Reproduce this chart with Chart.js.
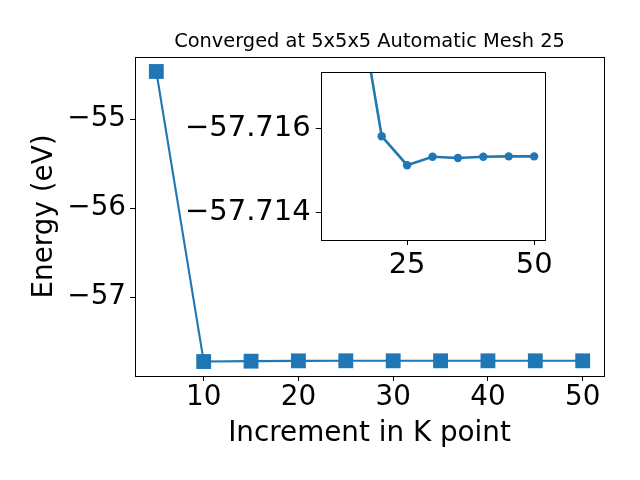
<!DOCTYPE html>
<html>
<head>
<meta charset="utf-8">
<script src="https://cdn.jsdelivr.net/npm/chart.js@4"></script>
<style>
  html, body { margin: 0; padding: 0; background: #ffffff; }
  #wrap { position: relative; width: 640px; height: 480px; }
  #main { position: absolute; left: 0; top: 0; }
  #inset { position: absolute; left: 170px; top: 60px; }
</style>
</head>
<body>
<div id="wrap">
  <canvas id="main" width="640" height="480"></canvas>
  <canvas id="inset" width="390" height="230"></canvas>
</div>
<script>
// ---- data ----
const kPoints = [5, 10, 15, 20, 25, 30, 35, 40, 45, 50];
const energies = [-54.465, -57.7235, -57.7194, -57.71581, -57.71512, -57.71532, -57.71529, -57.71532, -57.71533, -57.71533];
const mainXTicks = [10, 20, 30, 40, 50];
const mainYTicks = [-57, -56, -55];
const insetXTicks = [25, 50];
const insetYTicks = [-57.716, -57.714];
const titleText = 'Converged at 5x5x5 Automatic Mesh 25';
const xLabel = 'Increment in K point';
const yLabel = 'Energy (eV)';

const BLUE = '#1f77b4';
const FONT = 'DejaVu Sans';

function fmtNum(v, dec) {
  const s = dec === undefined ? String(Math.abs(v)) : Math.abs(v).toFixed(dec);
  return (v < 0 ? '\u2212' : '') + s;
}

const framePlugin = {
  id: 'frame',
  beforeDraw(chart, args, opts) {
    if (opts.fill) {
      const a = chart.chartArea;
      chart.ctx.save();
      chart.ctx.fillStyle = '#ffffff';
      chart.ctx.fillRect(a.left, a.top, a.right - a.left, a.bottom - a.top);
      chart.ctx.restore();
    }
  },
  afterDraw(chart) {
    const a = chart.chartArea;
    const ctx = chart.ctx;
    ctx.save();
    ctx.strokeStyle = '#000000';
    ctx.lineWidth = 1;
    ctx.strokeRect(Math.round(a.left) + 0.5, Math.round(a.top) + 0.5,
                   Math.round(a.right - a.left), Math.round(a.bottom - a.top));
    ctx.restore();
  }
};

const mainData = kPoints.map((k, i) => ({ x: k, y: energies[i] }));
const insetData = kPoints.slice(1).map((k, i) => ({ x: k, y: energies[i + 1] }));

new Chart(document.getElementById('main'), {
  type: 'line',
  data: {
    datasets: [{
      data: mainData,
      borderColor: BLUE,
      backgroundColor: BLUE,
      borderWidth: 2.1,
      pointStyle: 'rect',
      pointRadius: 10.5,
      pointHoverRadius: 10.5,
      pointBorderWidth: 0,
      tension: 0
    }]
  },
  plugins: [framePlugin],
  options: {
    responsive: false,
    animation: false,
    devicePixelRatio: 1,
    layout: { padding: { top: 0, right: 36, bottom: 0, left: 0 } },
    plugins: {
      legend: { display: false },
      tooltip: { enabled: false },
      frame: { fill: false },
      title: {
        display: true,
        text: titleText,
        fullSize: false,
        color: '#000000',
        font: { family: FONT, size: 19.4, weight: 'normal' },
        padding: { top: 30.4, bottom: 3.3 }
      }
    },
    scales: {
      x: {
        type: 'linear',
        min: 2.75,
        max: 52.25,
        afterBuildTicks: s => { s.ticks = mainXTicks.map(v => ({ value: v })); },
        afterFit: s => { s.height = 104; s.paddingLeft = 0; s.paddingRight = 0; },
        grid: { drawOnChartArea: false, drawTicks: true, tickLength: 5, color: '#000000' },
        border: { display: false },
        ticks: {
          color: '#000000', font: { family: FONT, size: 27.8 }, padding: 0,
          maxRotation: 0, autoSkip: false,
          callback: v => fmtNum(v)
        },
        title: {
          display: true, text: xLabel, color: '#000000',
          font: { family: FONT, size: 27.8 }, padding: { top: 0, bottom: 29.8 }
        }
      },
      y: {
        type: 'linear',
        min: -57.886,
        max: -54.302,
        afterBuildTicks: s => { s.ticks = mainYTicks.map(v => ({ value: v })); },
        afterFit: s => { s.width = 135; s.paddingTop = 0; s.paddingBottom = 0; },
        grid: { drawOnChartArea: false, drawTicks: true, tickLength: 5, color: '#000000' },
        border: { display: false },
        ticks: {
          color: '#000000', font: { family: FONT, size: 27.8 }, padding: 4,
          autoSkip: false,
          callback: v => fmtNum(v)
        },
        title: {
          display: true, text: yLabel, color: '#000000',
          font: { family: FONT, size: 27.8 }, padding: { top: 28.3, bottom: 0 }
        }
      }
    }
  }
});

new Chart(document.getElementById('inset'), {
  type: 'line',
  data: {
    datasets: [{
      data: insetData,
      borderColor: BLUE,
      backgroundColor: BLUE,
      borderWidth: 2.6,
      pointStyle: 'circle',
      pointRadius: 4.2,
      pointHoverRadius: 4.2,
      pointBorderWidth: 0,
      tension: 0
    }]
  },
  plugins: [framePlugin],
  options: {
    responsive: false,
    animation: false,
    devicePixelRatio: 1,
    layout: { padding: { top: 12.3, right: 15.7, bottom: 0, left: 0 } },
    plugins: {
      legend: { display: false },
      tooltip: { enabled: false },
      title: { display: false },
      frame: { fill: true }
    },
    scales: {
      x: {
        type: 'linear',
        min: 8,
        max: 52,
        afterBuildTicks: s => { s.ticks = insetXTicks.map(v => ({ value: v })); },
        afterFit: s => { s.height = 50; s.paddingLeft = 0; s.paddingRight = 0; },
        grid: { drawOnChartArea: false, drawTicks: true, tickLength: 5, color: '#000000' },
        border: { display: false },
        ticks: {
          color: '#000000', font: { family: FONT, size: 29 }, padding: 3,
          maxRotation: 0, autoSkip: false,
          callback: v => fmtNum(v)
        }
      },
      y: {
        type: 'linear',
        reverse: true,
        min: -57.71733,
        max: -57.71334,
        afterBuildTicks: s => { s.ticks = insetYTicks.map(v => ({ value: v })); },
        afterFit: s => { s.width = 150.7; s.paddingTop = 0; s.paddingBottom = 0; },
        grid: { drawOnChartArea: false, drawTicks: true, tickLength: 5, color: '#000000' },
        border: { display: false },
        ticks: {
          color: '#000000', font: { family: FONT, size: 29 }, padding: 5,
          autoSkip: false,
          callback: v => fmtNum(v, 3)
        }
      }
    }
  }
});
</script>
</body>
</html>
